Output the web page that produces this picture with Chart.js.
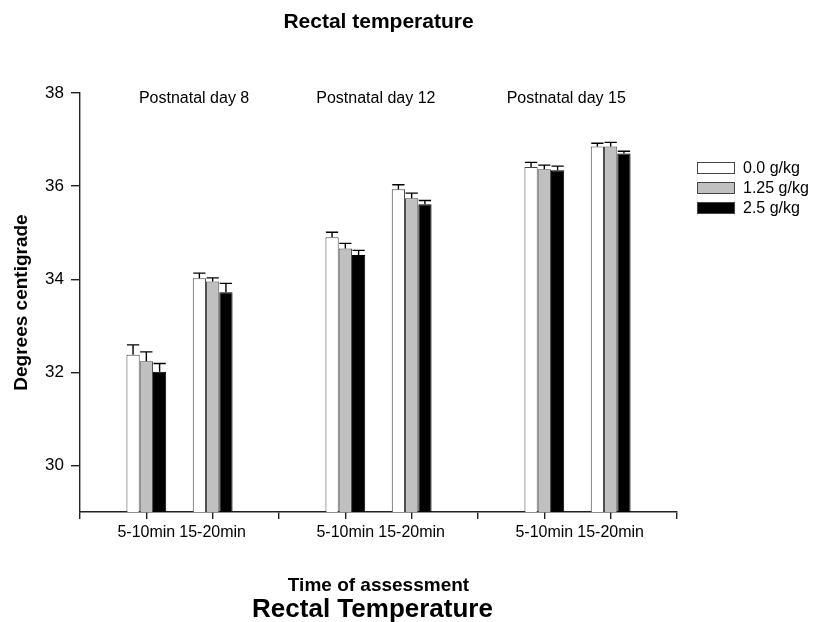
<!DOCTYPE html>
<html>
<head>
<meta charset="utf-8">
<script src="https://cdn.jsdelivr.net/npm/chart.js@4"></script>
<style>
  body { margin: 0; background: #fff; }
  #wrap { width: 815px; height: 622px; }
</style>
</head>
<body>
<div id="wrap"><canvas id="temp-chart" width="815" height="622"></canvas></div>
<script>
// Rectal temperature by dose, day and time of assessment
const categories = ['', '5-10min', '15-20min', '', '5-10min', '15-20min', '', '5-10min', '15-20min', ''];
const seriesNames = ['0.0 g/kg', '1.25 g/kg', '2.5 g/kg'];

const dose0   = [null, 32.38, 34.02, null, 34.90, 35.93, null, 36.41, 36.85, null];
const dose125 = [null, 32.24, 33.95, null, 34.66, 35.74, null, 36.36, 36.85, null];
const dose25  = [null, 32.01, 33.72, null, 34.52, 35.61, null, 36.34, 36.70, null];

const err0   = [null, 0.21, 0.11, null, 0.11, 0.10, null, 0.10, 0.07, null];
const err125 = [null, 0.20, 0.08, null, 0.11, 0.11, null, 0.09, 0.09, null];
const err25  = [null, 0.18, 0.19, null, 0.10, 0.08, null, 0.09, 0.05, null];

const yMin = 29, yMax = 38;
const yTicks = [30, 32, 34, 36, 38];

const dayLabels = ['Postnatal day 8', 'Postnatal day 12', 'Postnatal day 15'];
const dayLabelX = [1.72, 4.46, 7.33];
const dayLabelY = 37.87;

const fillColours = ['#ffffff', '#c0c0c0', '#000000'];
const errors = [err0, err125, err25];

const FONT = 'Arial, "Liberation Sans", sans-serif';
const INK = '#222';

// error bars, only the upper half
const errorBars = {
  id: 'errorBars',
  afterDatasetsDraw(chart) {
    const ctx = chart.ctx;
    const yScale = chart.scales.y;
    ctx.save();
    ctx.strokeStyle = '#000';
    ctx.lineWidth = 1.4;
    chart.data.datasets.forEach((ds, d) => {
      const meta = chart.getDatasetMeta(d);
      meta.data.forEach((bar, i) => {
        const v = ds.data[i];
        const e = errors[d][i];
        if (v == null || e == null) return;
        const top = yScale.getPixelForValue(v + e);
        const half = bar.width / 2 - 0.5;
        ctx.beginPath();
        ctx.moveTo(bar.x, bar.y);
        ctx.lineTo(bar.x, top);
        ctx.moveTo(bar.x - half, top);
        ctx.lineTo(bar.x + half, top);
        ctx.stroke();
      });
    });
    ctx.restore();
  }
};

// titles, day labels and the legend box
const extras = {
  id: 'extras',
  afterDraw(chart) {
    const ctx = chart.ctx;
    const area = chart.chartArea;
    const xs = chart.scales.x, ys = chart.scales.y;
    const mid = (area.left + area.right) / 2;
    ctx.save();
    ctx.fillStyle = '#000';
    ctx.textAlign = 'center';
    ctx.textBaseline = 'middle';

    ctx.font = 'bold 21px ' + FONT;
    ctx.fillText('Rectal temperature', mid, 22);

    ctx.font = 'bold 26px ' + FONT;
    ctx.fillText('Rectal Temperature', mid - 6, 610);

    ctx.font = '16px ' + FONT;
    for (let i = 0; i < dayLabels.length; i++) {
      ctx.fillText(dayLabels[i], xs.getPixelForValue(dayLabelX[i]), ys.getPixelForValue(dayLabelY));
    }

    // legend
    const lx = area.right + 20, ly = 162, rowH = 20;
    ctx.textAlign = 'left';
    ctx.font = '16px ' + FONT;
    for (let i = 0; i < seriesNames.length; i++) {
      const y = ly + i * rowH;
      ctx.fillStyle = fillColours[i];
      ctx.fillRect(lx, y, 38, 12);
      ctx.strokeStyle = '#444';
      ctx.lineWidth = 1;
      ctx.strokeRect(lx + 0.5, y + 0.5, 37, 11);
      ctx.fillStyle = '#000';
      ctx.fillText(seriesNames[i], lx + 46, y + 6.5);
    }
    ctx.restore();
  }
};

const ctx = document.getElementById('temp-chart').getContext('2d');
new Chart(ctx, {
  type: 'bar',
  data: {
    labels: categories,
    datasets: [
      { label: seriesNames[0], data: dose0,   backgroundColor: fillColours[0], borderColor: '#444', borderWidth: 1 },
      { label: seriesNames[1], data: dose125, backgroundColor: fillColours[1], borderColor: '#444', borderWidth: 1 },
      { label: seriesNames[2], data: dose25,  backgroundColor: fillColours[2], borderColor: '#000', borderWidth: 1 }
    ]
  },
  options: {
    responsive: false,
    animation: false,
    base: yMin,
    categoryPercentage: 0.6,
    barPercentage: 1.0,
    layout: { padding: { top: 93, right: 138, bottom: 0, left: 0 } },
    plugins: {
      legend: { display: false },
      tooltip: { enabled: false }
    },
    scales: {
      x: {
        offset: false,
        grid: { offset: false, drawOnChartArea: false, drawTicks: true, tickLength: 7, color: INK, lineWidth: 1.4 },
        border: { display: true, color: INK, width: 1.4 },
        ticks: { autoSkip: false, maxRotation: 0, padding: 4, color: '#000', font: { family: FONT, size: 16 } },
        title: {
          display: true,
          text: 'Time of assessment',
          color: '#000',
          font: { family: FONT, size: 19, weight: 'bold' },
          padding: { top: 0, bottom: 25 }
        },
        afterFit(scale) { scale.height = 110; }
      },
      y: {
        min: yMin,
        max: yMax,
        afterBuildTicks(scale) { scale.ticks = yTicks.map(v => ({ value: v })); },
        grid: { drawOnChartArea: false, drawTicks: true, tickLength: 9, color: INK, lineWidth: 1.4 },
        border: { display: true, color: INK, width: 1.4 },
        ticks: { padding: 7, color: '#000', font: { family: FONT, size: 17 } },
        title: {
          display: true,
          text: 'Degrees centigrade',
          color: '#000',
          font: { family: FONT, size: 19, weight: 'bold' },
          padding: { top: 10, bottom: 0 }
        },
        afterFit(scale) { scale.width = 80; }
      }
    }
  },
  plugins: [errorBars, extras]
});
</script>
</body>
</html>
